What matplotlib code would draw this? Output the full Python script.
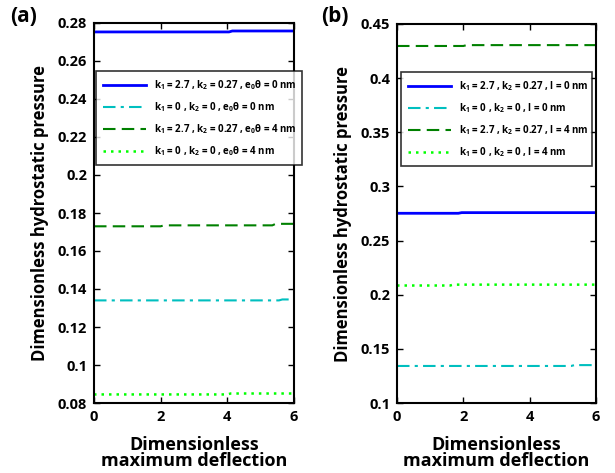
import matplotlib
matplotlib.use("Agg")
import matplotlib.pyplot as plt

plt.rcParams['font.family'] = ['Open Sans', 'DejaVu Sans']
plt.rcParams['font.weight'] = 'bold'
plt.rcParams['mathtext.default'] = 'regular'

# ---- Data: panel (a) ----
xa_blue = [0, 4.05, 4.15, 6]
ya_blue = [0.2753, 0.2753, 0.2758, 0.2758]
xa_cyan = [0, 5.55, 5.65, 6]
ya_cyan = [0.1340, 0.1340, 0.1345, 0.1345]
xa_dgreen = [0, 2.0, 2.1, 5.35, 5.45, 6]
ya_dgreen = [0.1730, 0.1730, 0.1735, 0.1735, 0.1743, 0.1743]
xa_lgreen = [0, 4.0, 4.1, 6]
ya_lgreen = [0.0845, 0.0845, 0.0850, 0.0850]

# ---- Data: panel (b) ----
xb_blue = [0, 1.85, 1.95, 6]
yb_blue = [0.2752, 0.2752, 0.2758, 0.2758]
xb_cyan = [0, 5.25, 5.35, 6]
yb_cyan = [0.1342, 0.1342, 0.1350, 0.1350]
xb_dgreen = [0, 2.0, 2.1, 6]
yb_dgreen = [0.4297, 0.4297, 0.4305, 0.4305]
xb_lgreen = [0, 1.6, 1.7, 6]
yb_lgreen = [0.2085, 0.2085, 0.2093, 0.2093]

labels_a = [r"k$_1$ = 2.7 , k$_2$ = 0.27 , e$_0$θ = 0 nm",
            r"k$_1$ = 0 , k$_2$ = 0 , e$_0$θ = 0 nm",
            r"k$_1$ = 2.7 , k$_2$ = 0.27 , e$_0$θ = 4 nm",
            r"k$_1$ = 0 , k$_2$ = 0 , e$_0$θ = 4 nm"]
labels_b = [r"k$_1$ = 2.7 , k$_2$ = 0.27 , l = 0 nm",
            r"k$_1$ = 0 , k$_2$ = 0 , l = 0 nm",
            r"k$_1$ = 2.7 , k$_2$ = 0.27 , l = 4 nm",
            r"k$_1$ = 0 , k$_2$ = 0 , l = 4 nm"]

xticks = [0, 2, 4, 6]
yticks_a = [0.08, 0.1, 0.12, 0.14, 0.16, 0.18, 0.2, 0.22, 0.24, 0.26, 0.28]
yticklabels_a = ["0.08", "0.1", "0.12", "0.14", "0.16", "0.18", "0.2", "0.22", "0.24", "0.26", "0.28"]
yticks_b = [0.1, 0.15, 0.2, 0.25, 0.3, 0.35, 0.4, 0.45]
yticklabels_b = ["0.1", "0.15", "0.2", "0.25", "0.3", "0.35", "0.4", "0.45"]

styles = [dict(color='#0000ff', ls='-', lw=2.0),
          dict(color='#00bfbf', ls=(0, (6, 2.5, 1.5, 2.5)), lw=1.5),
          dict(color='#008000', ls=(0, (6, 3)), lw=1.5),
          dict(color='#00ff00', ls=(0, (1, 2)), lw=1.8)]

fig = plt.figure(figsize=(6.15, 4.73), dpi=100)
ax_a = fig.add_axes([94/615, 70/473, 200/615, 380/473])
ax_b = fig.add_axes([397/615, 70/473, 199/615, 379/473])

def draw(ax, data, labels, yticks, yticklabels, ylim, leg_box, tag, tag_x):
    for (x, y), st, lab in zip(data, styles, labels):
        ax.plot(x, y, label=lab, **st)
    ax.set_xlim(0, 6)
    ax.set_ylim(*ylim)
    ax.set_xticks(xticks)
    ax.set_xticklabels([str(t) for t in xticks], fontsize=10.5, fontweight='bold')
    ax.set_yticks(yticks)
    ax.set_yticklabels(yticklabels, fontsize=10.5, fontweight='bold')
    ax.tick_params(direction='in', top=True, right=True, length=4, width=1, pad=5)
    for s in ax.spines.values():
        s.set_linewidth(1.5)
    ax.set_xlabel("Dimensionless\nmaximum deflection", fontsize=13, fontweight='bold',
                  linespacing=0.8, labelpad=9)
    ax.set_ylabel("Dimensionless hydrostatic pressure", fontsize=12, fontweight='bold', labelpad=6)
    leg = ax.legend(loc='upper left', bbox_to_anchor=leg_box, mode='expand',
                    fontsize=7, frameon=True, fancybox=False, edgecolor='black',
                    handlelength=4.4, borderaxespad=0, labelspacing=0.85,
                    borderpad=0.75, handletextpad=0.8)
    leg.get_frame().set_linewidth(1.2)
    for t in leg.get_texts():
        t.set_fontweight('bold')
    fig.text(tag_x, 0.965, tag, fontsize=15, fontweight='bold', ha='left', va='center')

draw(ax_a, [(xa_blue, ya_blue), (xa_cyan, ya_cyan), (xa_dgreen, ya_dgreen), (xa_lgreen, ya_lgreen)],
     labels_a, yticks_a, yticklabels_a, (0.08, 0.28), (0.01, 0.0, 1.03, 0.874), '(a)', 10/615)
draw(ax_b, [(xb_blue, yb_blue), (xb_cyan, yb_cyan), (xb_dgreen, yb_dgreen), (xb_lgreen, yb_lgreen)],
     labels_b, yticks_b, yticklabels_b, (0.1, 0.45), (0.02, 0.0, 0.96, 0.874), '(b)', 321/615)

fig.savefig("out.png", dpi=100)
